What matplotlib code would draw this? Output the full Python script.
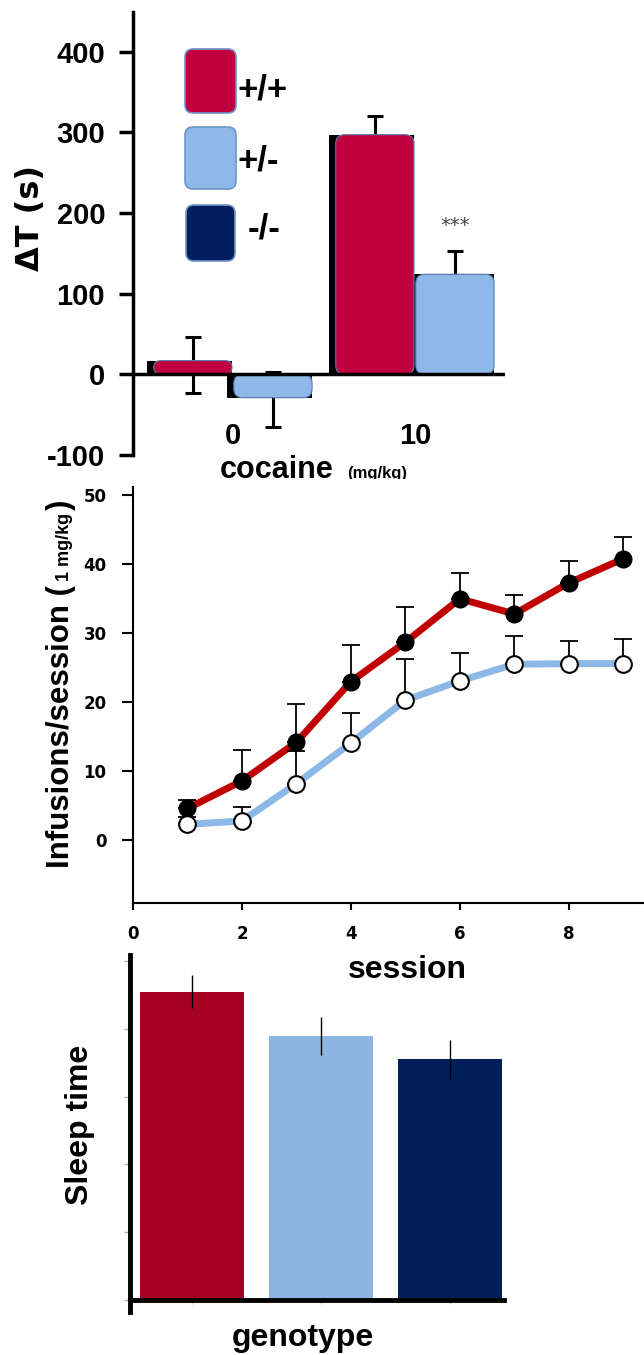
import numpy as np
import matplotlib.pyplot as plt
from matplotlib.patches import FancyBboxPatch
from matplotlib.transforms import Bbox, TransformedBbox

W, H = 644, 1355

# top panel: place preference
doses = ["0", "10"]
genotypes = ["+/+", "+/-", "-/-"]
dT_wt = [17, 297]
dT_wt_lo = [40, 23]
dT_wt_hi = [29, 23]
dT_het = [-29, 124]
dT_het_lo = [36, 29]
dT_het_hi = [32, 29]

# middle panel: self-administration
sessions = [1, 2, 3, 4, 5, 6, 7, 8, 9]
inf_wt = [4.6, 8.6, 14.2, 23.0, 28.7, 35.0, 32.8, 37.3, 40.8]
inf_wt_err = [1.2, 4.5, 5.6, 5.3, 5.1, 3.8, 2.7, 3.2, 3.1]
inf_het = [2.3, 2.8, 8.2, 14.1, 20.3, 23.1, 25.5, 25.6, 25.6]
inf_het_err = [1.1, 2.0, 4.7, 4.4, 5.9, 4.0, 4.1, 3.3, 3.6]

# bottom panel: sleep time
sleep = [4.55, 3.89, 3.55]
sleep_err = [0.24, 0.28, 0.29]

RED, LBLUE, NAVY = "#c0003f", "#8db8e8", "#001f5c"
ARIAL = ["Liberation Sans", "DejaVu Sans"]
NARROW = ["Liberation Sans Narrow", "Liberation Sans", "DejaVu Sans"]


def rect(l, t, r, b):
    return [l / W, 1 - b / H, (r - l) / W, (b - t) / H]


def fx(px):
    return px / W


def fy(px):
    return 1 - px / H


fig = plt.figure(figsize=(W / 100, H / 100), dpi=100)

# ---------------- panel 1 ----------------
ax1 = fig.add_axes(rect(133, 12, 505, 455))
ax1.set_xlim(-0.549, 1.495)
ax1.set_ylim(-100, 449)
x = np.arange(len(doses))
bw, off = 0.43, 0.22
p0 = ax1.transData.transform((0, 0))
p1 = ax1.transData.transform((1, 1))
sx, sy = p1 - p0


def round_bar(ax, xc, v, color):
    shadow = 7 / sx
    ax.bar(xc - shadow / 2, v, bw + shadow, color="black", zorder=2)
    y0, h = min(0, v), abs(v)
    r = min(9, h * sy / 2, bw * sx / 2) / sx
    ax.add_patch(FancyBboxPatch((xc - bw / 2, y0), bw, h,
                                boxstyle=f"round,pad=0,rounding_size={r}",
                                mutation_aspect=sx / sy, fc=color,
                                ec="#5a7db0", lw=0.8, zorder=3))


for i in range(len(doses)):
    round_bar(ax1, x[i] - off, dT_wt[i], RED)
    round_bar(ax1, x[i] + off, dT_het[i], LBLUE)

ax1.errorbar(x - off, dT_wt, yerr=[dT_wt_lo, dT_wt_hi], fmt="none", ecolor="black",
             elinewidth=2.2, capsize=6, capthick=2.2, zorder=1)
ax1.errorbar(x + off, dT_het, yerr=[dT_het_lo, dT_het_hi], fmt="none", ecolor="black",
             elinewidth=2.2, capsize=6, capthick=2.2, zorder=1)
ax1.axhline(0, color="black", lw=2.5, zorder=4)
ax1.text(x[1] + off, 185, "***", ha="center", va="center", fontsize=14, color="#444444")

for s in ["top", "right", "bottom"]:
    ax1.spines[s].set_visible(False)
ax1.spines["left"].set_linewidth(2.5)
yt = list(range(-100, 401, 100))
ax1.set_yticks(yt)
ax1.set_yticklabels([str(t) for t in yt], fontfamily=NARROW, fontweight="bold", fontsize=21)
ax1.tick_params(axis="y", length=10, width=2.5, pad=10)
ax1.set_xticks(x)
ax1.set_xticklabels(doses, fontfamily=NARROW, fontweight="bold", fontsize=21)
ax1.tick_params(axis="x", length=0, pad=-24)

fig.text(fx(30), fy(218), "ΔT (s)", rotation=90, ha="center", va="center",
         fontsize=23, fontweight="bold", family="DejaVu Sans")

# legend boxes
legend_boxes = [(185, 49, 236, 113), (185, 127, 236, 189), (186, 205, 235, 261)]
legend_text = [(238, 90), (238, 161), (248, 229)]
for (x0, y0, x1, y1), col, (tx, ty), lab in zip(legend_boxes, [RED, LBLUE, NAVY], legend_text, genotypes):
    fig.add_artist(FancyBboxPatch((x0 / 100, (H - y1) / 100), (x1 - x0) / 100, (y1 - y0) / 100,
                                  boxstyle="round,pad=0,rounding_size=0.08",
                                  transform=fig.dpi_scale_trans, fc=col, ec="#6f93c8", lw=1.2))
    fig.text(fx(tx), fy(ty), lab, ha="left", va="center", fontsize=25,
             fontweight="bold", family=NARROW)

clip = TransformedBbox(Bbox([[0, (H - 479) / 100], [W / 100, H / 100]]), fig.dpi_scale_trans)
t = fig.text(fx(220), fy(478), "cocaine", ha="left", va="baseline", fontsize=22,
             fontweight="bold", family=ARIAL)
t.set_clip_box(clip)
t.set_clip_on(True)
t = fig.text(fx(347), fy(478), "(mg/kg)", ha="left", va="baseline", fontsize=12,
             fontweight="bold", family=ARIAL)
t.set_clip_box(clip)
t.set_clip_on(True)

# ---------------- panel 2 ----------------
ax2 = fig.add_axes(rect(133, 487, 644, 903))
ax2.set_xlim(0, 9.38)
ax2.set_ylim(-9.1, 51.2)
ax2.plot(sessions, inf_wt, color="black", lw=1, zorder=2)
ax2.plot(sessions, inf_het, color="black", lw=1, zorder=2)
ax2.plot(sessions, inf_wt, color="#c00000", lw=5, zorder=3)
ax2.plot(sessions, inf_het, color="#8cb8e8", lw=5, zorder=3)
ax2.errorbar(sessions, inf_wt, yerr=[np.zeros(len(sessions)), inf_wt_err], fmt="none",
             ecolor="black", elinewidth=1.3, capsize=6.5, capthick=1.3, zorder=4)
ax2.errorbar(sessions, inf_het, yerr=[np.zeros(len(sessions)), inf_het_err], fmt="none",
             ecolor="black", elinewidth=1.3, capsize=6.5, capthick=1.3, zorder=4)
ax2.plot(sessions, inf_wt, "o", ms=12, mfc="black", mec="black", zorder=5)
ax2.plot(sessions, inf_het, "o", ms=12, mfc="white", mec="black", mew=1.5, zorder=5)

for s in ["top", "right"]:
    ax2.spines[s].set_visible(False)
for s in ["left", "bottom"]:
    ax2.spines[s].set_linewidth(1.5)
ax2.set_yticks(range(0, 51, 10))
ax2.set_xticks(range(0, 9, 2))
ax2.tick_params(axis="y", length=8, width=1.5, pad=11, labelsize=12)
ax2.tick_params(axis="x", length=5, width=1.5, pad=11, labelsize=12)
for lab in ax2.get_xticklabels() + ax2.get_yticklabels():
    lab.set_fontweight("bold")
    lab.set_family("DejaVu Sans")

renderer = fig.canvas.get_renderer()
t1 = fig.text(fx(69), fy(868), "Infusions/session (", rotation=90, rotation_mode="anchor",
              ha="left", va="baseline", fontsize=22.5, fontweight="bold", family=ARIAL)
top = t1.get_window_extent(renderer).y1
t2 = fig.text(fx(69), (top + 4) / H, "1 mg/kg", rotation=90, rotation_mode="anchor",
              ha="left", va="baseline", fontsize=13, fontweight="bold", family=ARIAL)
top = t2.get_window_extent(renderer).y1
fig.text(fx(69), (top + 3) / H, ")", rotation=90, rotation_mode="anchor",
         ha="left", va="baseline", fontsize=22.5, fontweight="bold", family=ARIAL)

fig.text(fx(407), fy(970), "session", ha="center", va="center", fontsize=23,
         fontweight="bold", family=ARIAL)

# ---------------- panel 3 ----------------
ax3 = fig.add_axes(rect(130, 955, 504, 1312))
xg = np.arange(len(genotypes))
ax3.bar(xg, sleep, width=0.81, color=["#a50021", "#8eb4e1", "#001f5b"], zorder=2)
ax3.errorbar(xg, sleep, yerr=sleep_err, fmt="none", ecolor="black", elinewidth=1,
             capsize=0, zorder=3)
ax3.set_xlim(-0.48, 2.42)
ax3.set_ylim(-0.177, 5.09)
for s in ["top", "right"]:
    ax3.spines[s].set_visible(False)
for s in ["left", "bottom"]:
    ax3.spines[s].set_linewidth(3.5)
ax3.spines["bottom"].set_position(("data", 0))
ax3.set_yticks(range(0, 6))
ax3.set_xticks(xg)
ax3.tick_params(axis="y", length=4, width=1, color="#aaaaaa", labelleft=False)
ax3.tick_params(axis="x", length=3, width=1, color="#cccccc", labelbottom=False)

fig.text(fx(80), fy(1125), "Sleep time", rotation=90, ha="center", va="center",
         fontsize=23, fontweight="bold", family=ARIAL)
fig.text(fx(303), fy(1338), "genotype", ha="center", va="center", fontsize=23,
         fontweight="bold", family=ARIAL)

fig.savefig("out.png", dpi=100)
